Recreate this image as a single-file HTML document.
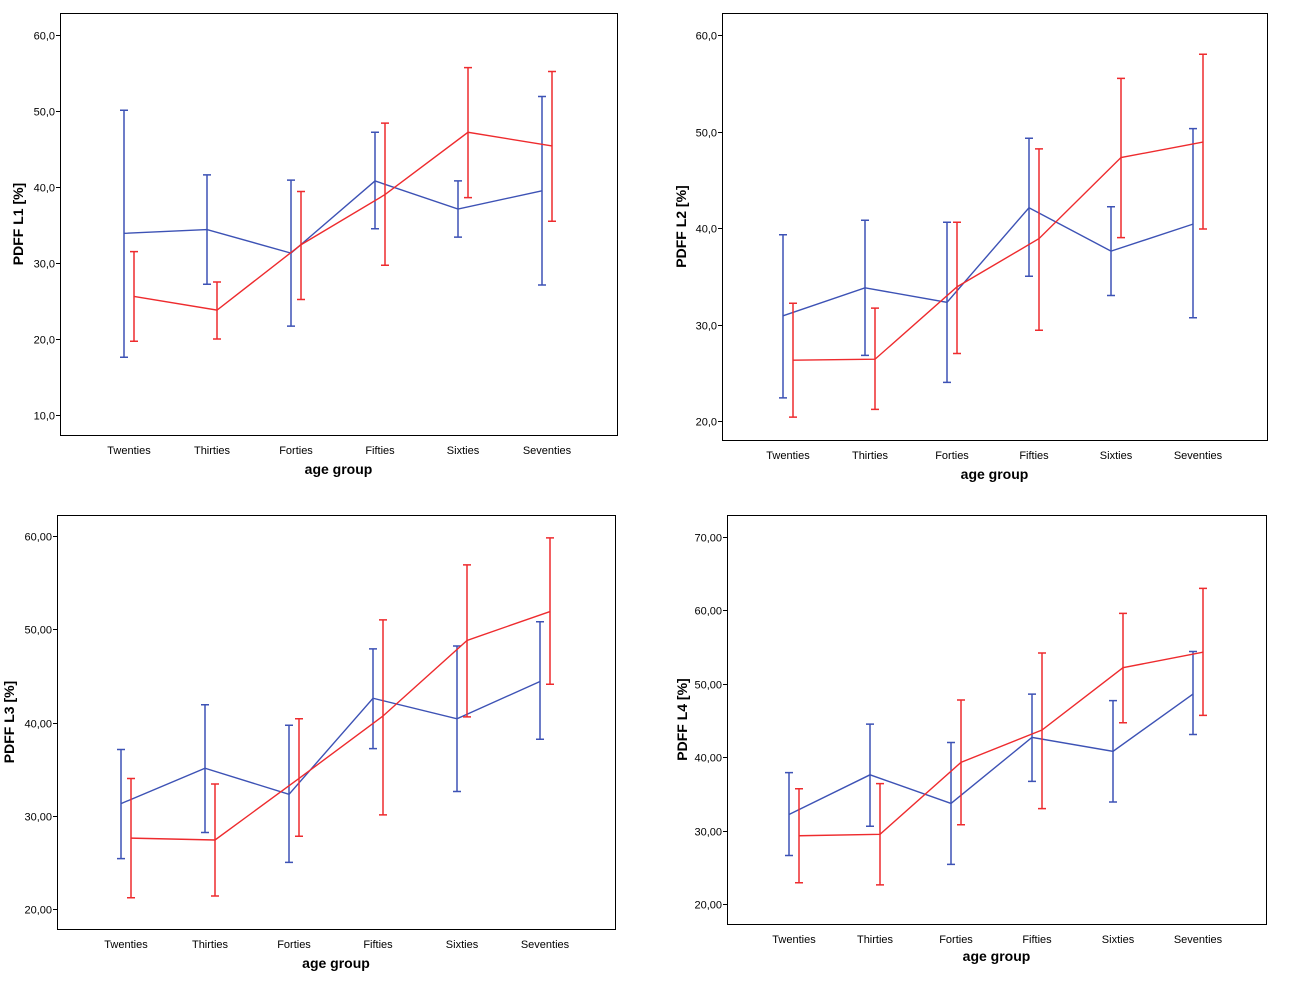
<!DOCTYPE html>
<html><head><meta charset="utf-8"><style>
html,body{margin:0;padding:0;background:#fff;width:1292px;height:992px;overflow:hidden}
svg{display:block}
text{font-family:"Liberation Sans",sans-serif}
</style></head><body>
<svg id="chart" width="1292" height="992"></svg>
<script>
const categories=["Twenties","Thirties","Forties","Fifties","Sixties","Seventies"];
const blueL1=[33.9,34.4,31.3,40.8,37.1,39.5];
const blueL1Lo=[17.6,27.2,21.7,34.5,33.4,27.1];
const blueL1Hi=[50.1,41.6,40.9,47.2,40.8,51.9];
const redL1=[25.6,23.8,32.4,39.0,47.2,45.4];
const redL1Lo=[19.7,20.0,25.2,29.7,38.6,35.5];
const redL1Hi=[31.5,27.5,39.4,48.4,55.7,55.2];
const blueL2=[30.9,33.8,32.3,42.1,37.6,40.4];
const blueL2Lo=[22.4,26.8,24.0,35.0,33.0,30.7];
const blueL2Hi=[39.3,40.8,40.6,49.3,42.2,50.3];
const redL2=[26.3,26.4,33.9,38.9,47.3,48.9];
const redL2Lo=[20.4,21.2,27.0,29.4,39.0,39.9];
const redL2Hi=[32.2,31.7,40.6,48.2,55.5,58.0];
const blueL3=[31.3,35.1,32.3,42.6,40.4,44.4];
const blueL3Lo=[25.4,28.2,25.0,37.2,32.6,38.2];
const blueL3Hi=[37.1,41.9,39.7,47.9,48.2,50.8];
const redL3=[27.6,27.4,34.0,40.7,48.8,51.9];
const redL3Lo=[21.2,21.4,27.8,30.1,40.6,44.1];
const redL3Hi=[34.0,33.4,40.4,51.0,56.9,59.8];
const blueL4=[32.2,37.6,33.7,42.7,40.8,48.6];
const blueL4Lo=[26.6,30.6,25.4,36.7,33.9,43.1];
const blueL4Hi=[37.9,44.5,42.0,48.6,47.7,54.4];
const redL4=[29.3,29.5,39.3,43.7,52.2,54.3];
const redL4Lo=[22.9,22.6,30.8,33.0,44.7,45.7];
const redL4Hi=[35.7,36.4,47.8,54.2,59.6,63.0];
const ticks1=[10,20,30,40,50,60];
const ticks2=[20,30,40,50,60];
const ticks3=[20,30,40,50,60];
const ticks4=[20,30,40,50,60,70];

const NS="http://www.w3.org/2000/svg";
const svg=document.getElementById('chart');
function mk(tag,attrs,parent){const e=document.createElementNS(NS,tag);for(const k in attrs)e.setAttribute(k,attrs[k]);(parent||svg).appendChild(e);return e;}

const panels=[
 {id:'l1',box:[60,13,617,435],y0:10,py0:415,y1:60,py1:35,xs:[129,212,296,380,463,547],ticks:ticks1,dec:1,title:'PDFF L1 [%]',tx:18,xt:474,b:[blueL1,blueL1Lo,blueL1Hi],r:[redL1,redL1Lo,redL1Hi]},
 {id:'l2',box:[722,13,1267,440],y0:20,py0:421,y1:60,py1:35,xs:[788,870,952,1034,1116,1198],ticks:ticks2,dec:1,title:'PDFF L2 [%]',tx:681,xt:479,b:[blueL2,blueL2Lo,blueL2Hi],r:[redL2,redL2Lo,redL2Hi]},
 {id:'l3',box:[57,515,615,929],y0:20,py0:909,y1:60,py1:536,xs:[126,210,294,378,462,545],ticks:ticks3,dec:2,title:'PDFF L3 [%]',tx:9,xt:968,b:[blueL3,blueL3Lo,blueL3Hi],r:[redL3,redL3Lo,redL3Hi]},
 {id:'l4',box:[727,515,1266,924],y0:20,py0:904,y1:70,py1:537,xs:[794,875,956,1037,1118,1198],ticks:ticks4,dec:2,title:'PDFF L4 [%]',tx:682,xt:961,b:[blueL4,blueL4Lo,blueL4Hi],r:[redL4,redL4Lo,redL4Hi]}
];
const BLUE='#3d52b5',RED='#ee2b2e';
panels.forEach(p=>{
 const g=mk('g',{});
 
 
 const [x0,y0,x1,y1]=p.box;
 const ys=v=>p.py0+(v-p.y0)*(p.py1-p.py0)/(p.y1-p.y0);
 const r=mk('rect',{x:x0+.5,y:y0+.5,width:x1-x0,height:y1-y0,fill:'#fff',stroke:'#000','stroke-width':1},g);
 
 
 p.ticks.forEach(t=>{
  const y=Math.round(ys(t))+.5;
  mk('line',{x1:x0-4,x2:x0,y1:y,y2:y,stroke:'#000'},g);
  const tx=mk('text',{x:x0-5,y:y+4,'text-anchor':'end','font-size':11},g);
  tx.textContent=t.toFixed(p.dec).replace('.',',');
  
  
 });
 categories.forEach((c,i)=>{
  const tx=mk('text',{x:p.xs[i],y:y1+19,'text-anchor':'middle','font-size':11},g);
  tx.textContent=c;
  
  
 });
 const xt=mk('text',{x:(x0+x1)/2,y:p.xt,'text-anchor':'middle','font-size':14,'font-weight':'bold'},g);
 xt.textContent='age group';
 
 
 const cy=(y0+y1)/2;
 const yt=mk('text',{x:p.tx,y:cy,'text-anchor':'middle','font-size':14,'font-weight':'bold',transform:`rotate(-90 ${p.tx} ${cy})`,dy:5},g);
 yt.textContent=p.title;
 
 
 [[p.b,BLUE,-5,'blue'],[p.r,RED,5,'red']].forEach(([s,col,off,nm])=>{
  s[0].forEach((m,i)=>{
   const x=p.xs[i]+off;
   const eb=mk('path',{d:`M${x-4},${ys(s[2][i])}H${x+4}M${x},${ys(s[2][i])}V${ys(s[1][i])}M${x-4},${ys(s[1][i])}H${x+4}`,stroke:col,'stroke-width':1.5,fill:'none'},g);
   
   
  });
  const pts=s[0].map((m,i)=>`${p.xs[i]+off},${ys(m)}`).join(' ');
  const pl=mk('polyline',{points:pts,stroke:col,'stroke-width':1.4,fill:'none'},g);
  
  
 });
});
</script>
</body></html>
